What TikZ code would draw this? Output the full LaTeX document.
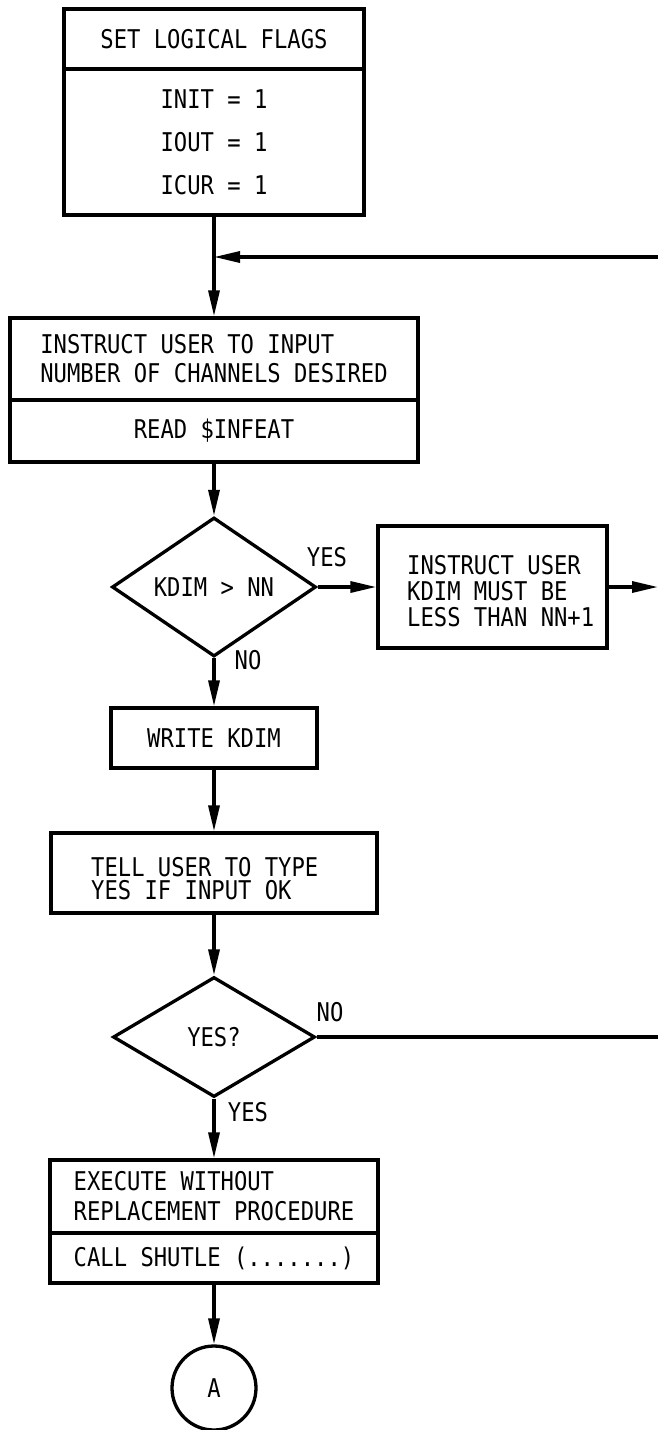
\documentclass[tikz,border=0pt]{standalone}
\usepackage{fontspec}
\setmonofont{DejaVu Sans Mono}[FakeStretch=0.86]
\usetikzlibrary{shapes.geometric,arrows.meta}

\begin{document}
\begin{tikzpicture}[x=1pt,y=-1pt,
  every node/.style={font=\ttfamily\fontsize{25.8}{29}\selectfont, inner sep=0pt},
  box/.style={draw, rectangle, line width=3.3pt, inner sep=0pt},
  decision/.style={draw, diamond, line width=3.3pt, inner sep=0pt},
  joint/.style={draw, circle, line width=3.3pt, inner sep=0pt},
  flow/.style={line width=3.3pt, -{Triangle[length=26pt,width=11pt]}},
  plain/.style={line width=3.3pt},
  spaced/.style={font=\ttfamily\fontsize{25.8}{#1}\selectfont}
]
\useasboundingbox (0,0) rectangle (658,1430);

% initialisation block
\node[box, minimum width=300pt, minimum height=60pt] (hdr) at (214,39) {SET LOGICAL FLAGS};
\node[box, minimum width=300pt, minimum height=146pt, align=center, spaced=43] (flags) at (214,142)
  {INIT = 1\\IOUT = 1\\ICUR = 1};

% channel input block
\node[box, minimum width=408pt, minimum height=82pt, align=left, spaced=29] (instr) at (214,359)
  {INSTRUCT USER TO INPUT\\NUMBER OF CHANNELS DESIRED};
\node[box, minimum width=408pt, minimum height=62pt] (readinf) at (214,431) {READ \$INFEAT};

% range test
\node[decision, minimum width=204pt, minimum height=122pt] (d1) at (214,587) {KDIM > NN};
\node (yes1) at (327,557) {YES};
\node (no1) at (248,660) {NO};

\node[box, minimum width=229pt, minimum height=122pt] (warn) at (492.5,587) {};
\node[anchor=west, align=left, spaced=26] (warntxt) at (407,591)
  {INSTRUCT USER\\KDIM MUST BE\\LESS THAN NN+1};

\node[box, minimum width=206pt, minimum height=60pt] (write) at (214,738) {WRITE KDIM};

\node[box, minimum width=326pt, minimum height=80pt] (tell) at (214,873) {};
\node[anchor=west, align=left, spaced=23] (telltxt) at (91,879)
  {TELL USER TO TYPE\\YES IF INPUT OK};

% confirmation test
\node[decision, minimum width=202pt, minimum height=120pt] (d2) at (214,1037) {YES?};
\node (no2) at (330,1012) {NO};
\node (yes2) at (248,1112) {YES};

% execution block
\node[box, minimum width=328pt, minimum height=73pt, align=left, spaced=30] (exech) at (214,1196.5)
  {EXECUTE WITHOUT\\REPLACEMENT PROCEDURE};
\node[box, minimum width=328pt, minimum height=50pt] (call) at (214,1258) {CALL SHUTLE (.......)};

\node[joint, minimum size=84pt] (A) at (214,1388) {A};

% connectors
\coordinate (fbR) at (658,257);
\coordinate (fbJ) at (214,257);
\coordinate (outR) at (658,587);
\coordinate (exitR) at (658,1037);

\draw[plain] (flags.south) -- (fbJ);
\draw[flow] (fbJ) -- (instr.north);
\draw[flow] (fbR) -- (fbJ);
\draw[flow] (readinf.south) -- (d1.north);
\draw[flow] (d1.east) -- (warn.west);
\draw[flow] (warn.east) -- (outR);
\draw[flow] (d1.south) -- (write.north);
\draw[flow] (write.south) -- (tell.north);
\draw[flow] (tell.south) -- (d2.north);
\draw[plain] (d2.east) -- (exitR);
\draw[flow] (d2.south) -- (exech.north);
\draw[flow] (call.south) -- (A.north);
\end{tikzpicture}
\end{document}
